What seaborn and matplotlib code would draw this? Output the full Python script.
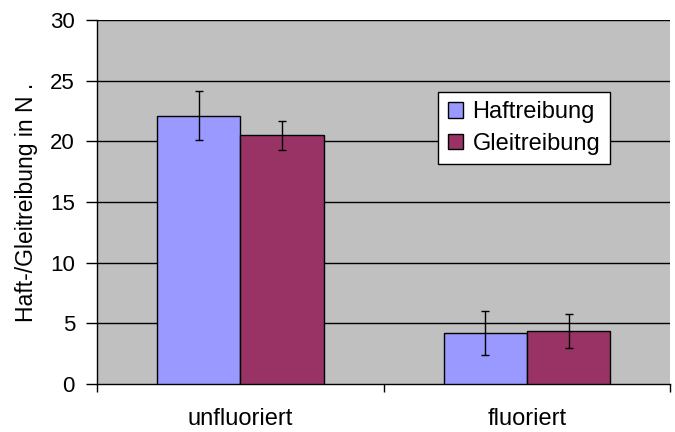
import pandas as pd
import seaborn as sns
import matplotlib.pyplot as plt
from matplotlib.ticker import FixedLocator

categories = ['unfluoriert', 'fluoriert']
series = ['Haftreibung', 'Gleitreibung']
haft = [22.1, 4.2]
gleit = [20.5, 4.4]
haft_err = [2.0, 1.8]
gleit_err = [1.2, 1.4]
colors = ['#9999FF', '#993366']

df = pd.DataFrame({
    'Kategorie': categories * 2,
    'Reibung': [series[0]] * 2 + [series[1]] * 2,
    'Wert': haft + gleit,
    'Fehler': haft_err + gleit_err,
})

sns.set_style('white')
plt.rcParams['font.family'] = ['Liberation Sans', 'DejaVu Sans']
plt.rcParams['text.color'] = 'black'
plt.rcParams['axes.labelcolor'] = 'black'
plt.rcParams['xtick.color'] = 'black'
plt.rcParams['ytick.color'] = 'black'

fig, ax = plt.subplots(figsize=(6.75, 4.32), dpi=100)
fig.subplots_adjust(left=0.144, right=0.993, top=0.954, bottom=0.111)

sns.barplot(data=df, x='Kategorie', y='Wert', hue='Reibung', order=categories,
            hue_order=series, palette=colors, width=0.58, errorbar=None,
            edgecolor='black', linewidth=1.0, saturation=1, ax=ax, zorder=3)

# error bars placed on bar centres
bars = [p for p in ax.patches if p.get_height() > 0]
for p, (_, row) in zip(bars, df.iterrows()):
    ax.errorbar(p.get_x() + p.get_width() / 2, row['Wert'], yerr=row['Fehler'],
                fmt='none', ecolor='black', elinewidth=1, capsize=3, capthick=1, zorder=4)

ax.set_facecolor('#C0C0C0')
ax.set_ylim(0, 30)
ax.set_xlim(-0.5, 1.5)
ax.set_yticks(range(0, 31, 5))
for y in range(5, 31, 5):
    ax.axhline(y, color='black', linewidth=1, zorder=1)

ax.xaxis.set_minor_locator(FixedLocator([-0.5, 0.5, 1.5]))
ax.tick_params(axis='x', which='major', length=0, labelsize=17, pad=17)
ax.tick_params(axis='x', which='minor', length=6, direction='out', width=1, color='black')
ax.tick_params(axis='y', length=8, direction='out', width=1, color='black', labelsize=16, pad=8)
ax.tick_params(bottom=True, left=True, which='both')

for s in ['top', 'right']:
    ax.spines[s].set_visible(False)
for s in ['left', 'bottom']:
    ax.spines[s].set_color('black')
    ax.spines[s].set_linewidth(1)

ax.set_xlabel('')
ax.set_ylabel('Haft-/Gleitreibung in N .', fontsize=16.5, labelpad=9)

leg = ax.legend(loc='upper left', bbox_to_anchor=(0.595, 0.802), fontsize=17,
                frameon=True, fancybox=False, edgecolor='black', framealpha=1,
                handlelength=0.65, handleheight=0.65, handletextpad=0.4,
                borderpad=0.4, labelspacing=0.4, borderaxespad=0)
leg.get_frame().set_linewidth(1)
for t in leg.get_texts():
    t.set_color('black')

plt.savefig('out.png', dpi=100)
